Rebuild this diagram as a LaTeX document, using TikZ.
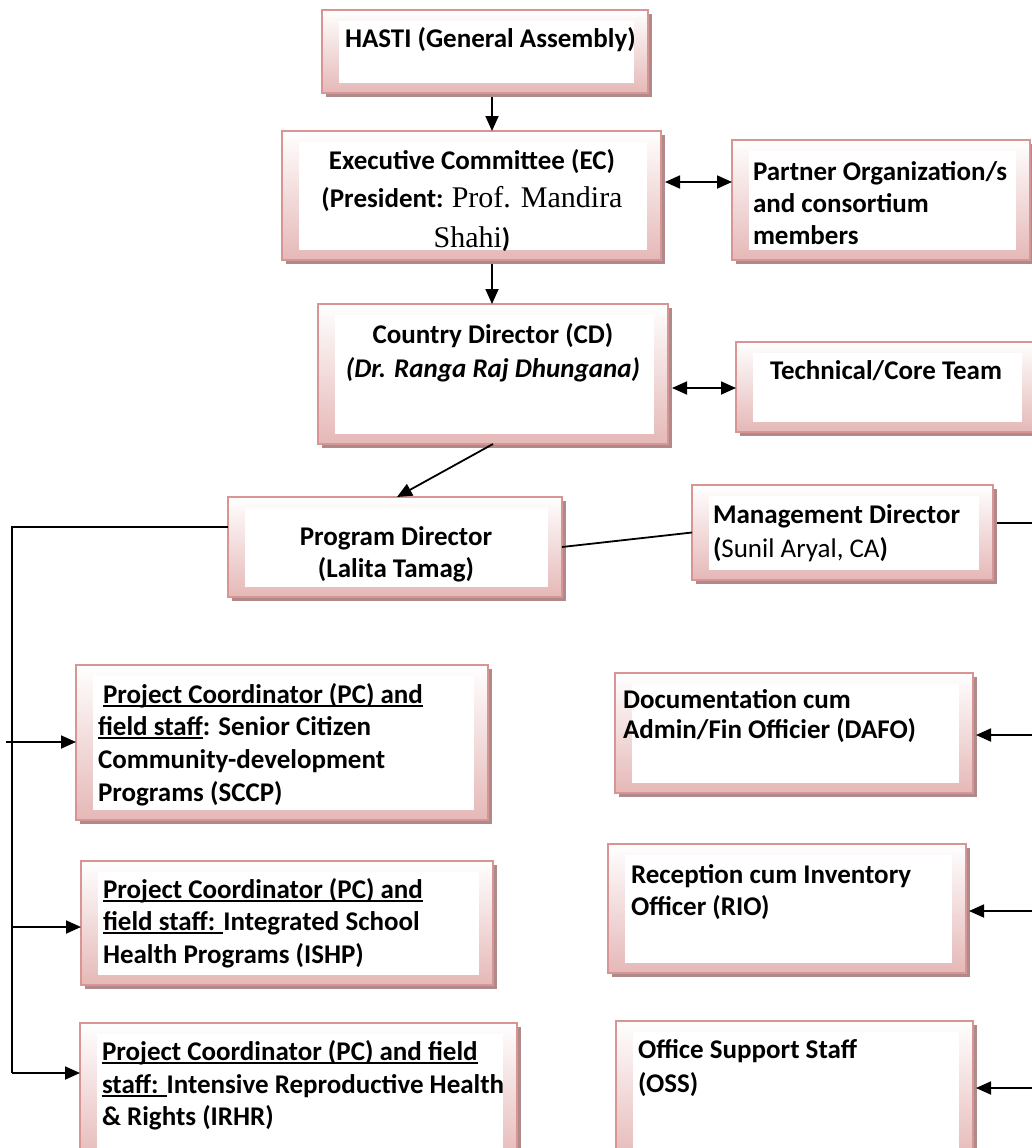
\documentclass[tikz,border=0pt]{standalone}
\usepackage{fontspec}
\setmainfont{Carlito}
\newfontfamily\tnr{Liberation Serif}
\usetikzlibrary{arrows.meta,shadows,calc}
\definecolor{bdr}{RGB}{217,149,148}
\definecolor{pinkb}{RGB}{229,184,183}
\definecolor{shad}{RGB}{176,138,138}
\newcommand\myul[1]{\setbox0\hbox{#1}\rlap{\rule[-4pt]{\wd0}{1.9pt}}\box0}
\newcommand\tnrbig{\tnr\mdseries\fontsize{30}{36}\selectfont}
\begin{document}
\begin{tikzpicture}[x=1pt,y=-1pt,
  orgbox/.style={draw=bdr, line width=1.5pt, top color=white, bottom color=pinkb,
    anchor=north west, inner sep=0pt, outer sep=0pt,
    drop shadow={shadow xshift=4pt, shadow yshift=-4pt, fill=shad, opacity=1},
    path picture={\fill[white] ([xshift=17pt,yshift=-11pt]path picture bounding box.north west)
      rectangle ([xshift=-14pt,yshift=10pt]path picture bounding box.south east);}},
  txt/.style={inner sep=0pt, outer sep=0pt, font=\fontsize{27}{32}\selectfont\bfseries},
  ln/.style={line width=1.8pt},
  arr/.style={line width=1.8pt, -{Triangle[length=15pt,width=13pt]}},
  darr/.style={line width=1.8pt, {Triangle[length=15pt,width=13pt]}-{Triangle[length=15pt,width=13pt]}}]
\useasboundingbox (0,0) rectangle (1032,1148);
\clip (0,0) rectangle (1032,1148);
\fill[white] (0,0) rectangle (1032,1148);

% boxes
\node[orgbox, minimum width=326, minimum height=83] (hasti) at (322,10) {};
\node[orgbox, minimum width=379, minimum height=129] (ec) at (282,131) {};
\node[orgbox, minimum width=298, minimum height=120] (partner) at (732,140) {};
\node[orgbox, minimum width=350, minimum height=140] (cd) at (318,304) {};
\node[orgbox, minimum width=300, minimum height=90] (tech) at (736,342) {};
\node[orgbox, minimum width=334, minimum height=100] (pd) at (228,497) {};
\node[orgbox, minimum width=301, minimum height=95] (md) at (692,485) {};
\node[orgbox, minimum width=412, minimum height=155] (pc1) at (76,665) {};
\node[orgbox, minimum width=412, minimum height=124] (pc2) at (81,861) {};
\node[orgbox, minimum width=437, minimum height=140] (pc3) at (80,1023) {};
\node[orgbox, minimum width=358, minimum height=120] (dafo) at (615,673) {};
\node[orgbox, minimum width=358, minimum height=129] (rio) at (608,844) {};
\node[orgbox, minimum width=357, minimum height=140] (oss) at (616,1021) {};

% texts
\node[txt, anchor=base west] (hasti-t) at (345,48) {HASTI (General Assembly)};
\node[txt, anchor=base] (ec-t1) at (472,169) {Executive Committee (EC)};
\node[txt, anchor=base] (ec-t2) at (472,207) {(President: {\tnrbig Prof. Mandira}};
\node[txt, anchor=base] (ec-t3) at (472,247) {{\tnrbig Shahi})};
\node[txt, anchor=base west] (pt-t1) at (753,180) {Partner Organization/s};
\node[txt, anchor=base west] (pt-t2) at (753,212) {and consortium};
\node[txt, anchor=base west] (pt-t3) at (753,244) {members};
\node[txt, anchor=base] (cd-t1) at (493,343) {Country Director (CD)};
\node[txt, anchor=base] (cd-t2) at (493,377) {\itshape (Dr. Ranga Raj Dhungana)};
\node[txt, anchor=base west] (tc-t) at (770,379) {Technical/Core Team};
\node[txt, anchor=base] (pd-t1) at (396,545) {Program Director};
\node[txt, anchor=base] (pd-t2) at (396,577) {(Lalita Tamag)};
\node[txt, anchor=base west] (md-t1) at (713,523) {Management Director};
\node[txt, anchor=base west] (md-t2) at (713,557) {({\mdseries Sunil Aryal, CA})};
\node[txt, anchor=base west] (pc1-t1) at (98,703) {\hspace{5pt}\myul{Project Coordinator (PC) and}};
\node[txt, anchor=base west] (pc1-t2) at (98,735) {\myul{field staff}: Senior Citizen};
\node[txt, anchor=base west] (pc1-t3) at (98,768) {Community-development};
\node[txt, anchor=base west] (pc1-t4) at (98,801) {Programs (SCCP)};
\node[txt, anchor=base west] (pc2-t1) at (103,898) {\myul{Project Coordinator (PC) and}};
\node[txt, anchor=base west] (pc2-t2) at (103,930) {\myul{field staff: }Integrated School};
\node[txt, anchor=base west] (pc2-t3) at (103,963) {Health Programs (ISHP)};
\node[txt, anchor=base west] (pc3-t1) at (102,1060) {\myul{Project Coordinator (PC) and field}};
\node[txt, anchor=base west] (pc3-t2) at (102,1093) {\myul{staff: }Intensive Reproductive Health};
\node[txt, anchor=base west] (pc3-t3) at (102,1125) {\& Rights (IRHR)};
\node[txt, anchor=base west] (dafo-t1) at (623,708) {Documentation cum};
\node[txt, anchor=base west] (dafo-t2) at (623,738) {Admin/Fin Officier (DAFO)};
\node[txt, anchor=base west] (rio-t1) at (631,883) {Reception cum Inventory};
\node[txt, anchor=base west] (rio-t2) at (631,915) {Officer (RIO)};
\node[txt, anchor=base west] (oss-t1) at (638,1058) {Office Support Staff};
\node[txt, anchor=base west] (oss-t2) at (638,1092) {(OSS)};

% connectors
\coordinate (a1) at (492,97);
\draw[arr] (a1) -- (ec.north -| a1);
\coordinate (a2) at (492,264);
\draw[arr] (a2) -- (cd.north -| a2);
\draw[darr] ($(ec.east |- 0,182)+(4,0)$) -- (partner.west |- 0,182);
\draw[darr] ($(cd.east |- 0,388)+(4,0)$) -- (tech.west |- 0,388);
\draw[arr] (cd.south) -- ($(pd.north)+(2,0)$);
\draw[ln] (pd.east) -- (md.west);
\coordinate (rbus) at (1034,523);
\draw[ln] ($(md.east |- rbus)+(4,0)$) -- (rbus);
\coordinate (lbus) at (12,527);
\coordinate (lbusend) at (12,1073);
\draw[ln] (pd.west |- lbus) -- (lbus) -- (lbusend);
\coordinate (pc1src) at (6,742);
\draw[arr] (pc1src) -- (pc1.west |- pc1src);
\coordinate (pc2src) at (12,927);
\draw[arr] (pc2src) -- (pc2.west |- pc2src);
\draw[arr] (lbusend) -- (pc3.west |- lbusend);
\coordinate (dafosrc) at (1034,735);
\coordinate (riosrc) at (1034,911);
\coordinate (osssrc) at (1034,1088);
\draw[arr] (dafosrc) -- ($(dafo.east |- dafosrc)+(3,0)$);
\draw[arr] (riosrc) -- ($(rio.east |- riosrc)+(3,0)$);
\draw[arr] (osssrc) -- ($(oss.east |- osssrc)+(3,0)$);
\end{tikzpicture}
\end{document}
